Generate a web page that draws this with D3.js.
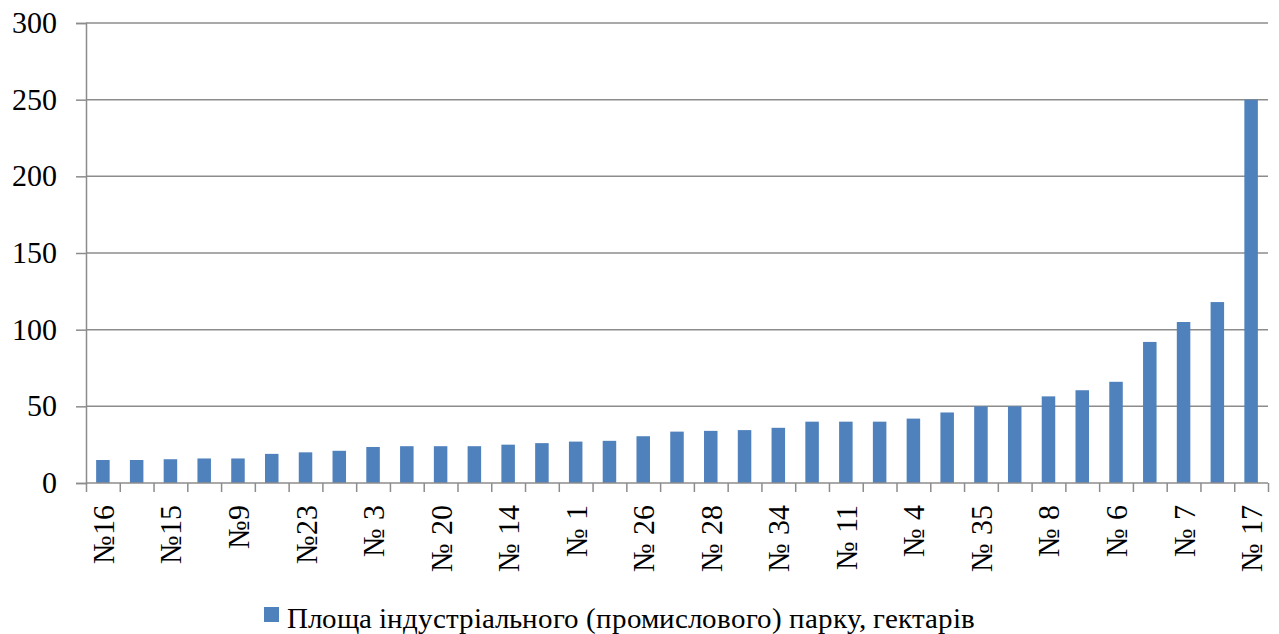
<!DOCTYPE html>
<html><head><meta charset="utf-8">
<script src="https://cdn.jsdelivr.net/npm/d3@7/dist/d3.min.js"></script>
<style>
  @font-face { font-family: "ChartSerif"; src: local("Liberation Serif"), local("LiberationSerif"), local("LiberationSerif-Regular"); }
  svg text { font-family: "ChartSerif", "Liberation Serif", serif !important; fill: #000; }
</style>
</head><body style="margin:0">
<svg id="s" width="1279" height="634"></svg>
<script>
// ---- data ----
const categories = ["№16", "", "№15", "", "№9", "", "№23", "", "№ 3", "", "№ 20", "", "№ 14", "", "№ 1", "", "№ 26", "", "№ 28", "", "№ 34", "", "№ 11", "", "№ 4", "", "№ 35", "", "№ 8", "", "№ 6", "", "№ 7", "", "№ 17"];
const values = [15, 15, 15.5, 16, 16, 19, 20, 21, 23.5, 24, 24, 24, 25, 26, 27, 27.5, 30.5, 33.5, 34, 34.5, 36, 40, 40, 40, 42, 46, 50, 50, 56.5, 60.5, 66, 92, 105, 118, 250];
const yTicks = [0, 50, 100, 150, 200, 250, 300];
const seriesName = "Площа індустріального (промислового) парку, гектарів";

// ---- layout ----
const serif = "ChartSerif, 'Liberation Serif', serif";
const svg = d3.select("#s");
const mLeft = 86, mRight = 1268, mTop = 23, mBottom = 483;
const gridColor = "#8c8c8c";
const barColor = "#4F81BD";

const xEdge = d3.scaleLinear().domain([0, categories.length]).range([mLeft, mRight]);
const y = d3.scaleLinear().domain([0, 300]).range([mBottom, mTop]);

// gridlines
svg.append("g").selectAll("line").data(yTicks.filter(d => d > 0)).join("line")
  .attr("x1", mLeft).attr("x2", mRight)
  .attr("y1", d => y(d)).attr("y2", d => y(d))
  .attr("stroke", gridColor).attr("stroke-width", 1.5);

// bars
const bw = (mRight - mLeft) / categories.length / 2.5;
svg.append("g").selectAll("rect").data(values).join("rect")
  .attr("x", (d, i) => xEdge(i + 0.5) - bw / 2)
  .attr("width", bw)
  .attr("y", d => y(d))
  .attr("height", d => y(0) - y(d))
  .attr("fill", barColor);

// y axis (ticks and domain)
const yAxis = d3.axisLeft(y).tickValues(yTicks).tickSize(10).tickFormat("");
const gy = svg.append("g").attr("transform", `translate(${mLeft},0)`).call(yAxis);
gy.select(".domain").attr("stroke", gridColor).attr("stroke-width", 1.5);
gy.selectAll(".tick line").attr("stroke", gridColor).attr("stroke-width", 1.5);

// y labels
svg.selectAll("text.ylab").data(yTicks).join("text")
  .attr("class", "ylab")
  .attr("x", mLeft - 29).attr("y", d => y(d) + 10)
  .attr("text-anchor", "end")
  .style("font-family", serif, "important").style("font-size", "30px")
  .text(d => d3.format("d")(d));

// x axis
const xAxis = d3.axisBottom(xEdge).tickValues(d3.range(categories.length + 1)).tickSize(9).tickFormat("");
const gx = svg.append("g").attr("transform", `translate(0,${mBottom})`).call(xAxis);
gx.select(".domain").attr("stroke", gridColor).attr("stroke-width", 1.5).attr("d", `M${mLeft},0H${mRight}`);
gx.selectAll(".tick line").attr("stroke", gridColor).attr("stroke-width", 1.5);

// x labels
svg.selectAll("text.xlab").data(categories.map((c, i) => ({c, i})).filter(d => d.c !== "")).join("text")
  .attr("class", "xlab")
  .attr("transform", d => `translate(${xEdge(d.i + 0.5) + 11},${mBottom + 22}) rotate(-90)`)
  .attr("text-anchor", "end")
  .style("font-family", serif, "important").style("font-size", "30px")
  .text(d => d.c);

// legend
svg.append("rect").attr("x", 264).attr("y", 607).attr("width", 15).attr("height", 15).attr("fill", barColor);
svg.append("text").attr("x", 287).attr("y", 628)
  .style("font-family", serif, "important").style("font-size", "29px")
  .text(seriesName);
</script>
</body></html>
